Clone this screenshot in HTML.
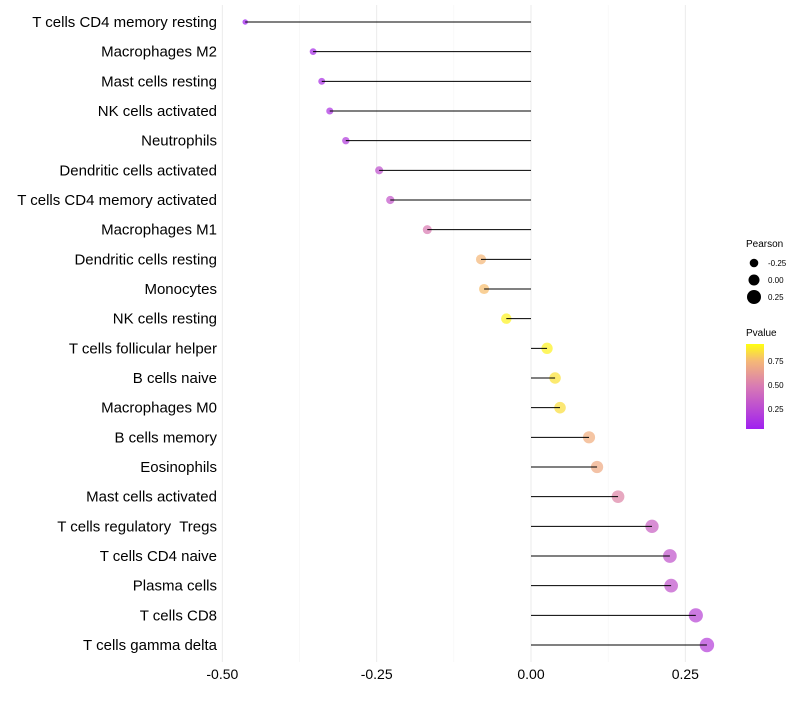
<!DOCTYPE html>
<html><head><meta charset="utf-8"><style>
body{margin:0;background:#fff;font-family:"Liberation Sans",sans-serif}
text{white-space:pre}
</style></head><body>
<svg id="chart" width="800" height="700" xmlns="http://www.w3.org/2000/svg">
<defs><linearGradient id="pg" x1="0" y1="1" x2="0" y2="0">
<stop offset="0" stop-color="#a020f0"/><stop offset="0.5" stop-color="#d87ab4"/><stop offset="0.8" stop-color="#f5b877"/><stop offset="1" stop-color="#ffff10"/></linearGradient></defs>
<g id="grid"></g><g id="marks"></g><g id="labels"></g>
<g font-size="10">
<text x="746" y="247">Pearson</text>
<circle cx="754" cy="263" r="4.3" fill="#000"/><text x="768" y="266" font-size="8">-0.25</text>
<circle cx="754" cy="280" r="5.5" fill="#000"/><text x="768" y="283" font-size="8">0.00</text>
<circle cx="754" cy="297" r="7" fill="#000"/><text x="768" y="300" font-size="8">0.25</text>
<text x="746" y="336">Pvalue</text>
<rect x="746" y="344" width="18" height="85" fill="url(#pg)"/>
<text x="768" y="364" font-size="8">0.75</text>
<text x="768" y="388" font-size="8">0.50</text>
<text x="768" y="412" font-size="8">0.25</text>
</g>
</svg>
<script>
const categories=["T cells CD4 memory resting","Macrophages M2","Mast cells resting","NK cells activated","Neutrophils","Dendritic cells activated","T cells CD4 memory activated","Macrophages M1","Dendritic cells resting","Monocytes","NK cells resting","T cells follicular helper","B cells naive","Macrophages M0","B cells memory","Eosinophils","Mast cells activated","T cells regulatory  Tregs","T cells CD4 naive","Plasma cells","T cells CD8","T cells gamma delta"];
const pearson=[-0.463,-0.353,-0.339,-0.326,-0.300,-0.246,-0.228,-0.168,-0.081,-0.076,-0.040,0.026,0.039,0.047,0.094,0.107,0.141,0.196,0.225,0.227,0.267,0.285];
const pvalue=[0.05,0.12,0.14,0.16,0.2,0.3,0.33,0.5,0.75,0.77,0.9,0.9,0.86,0.85,0.72,0.7,0.55,0.38,0.32,0.32,0.25,0.22];
const xTicks=[-0.5,-0.25,0,0.25];
const xTickLabels=["-0.50","-0.25","0.00","0.25"];
const NS="http://www.w3.org/2000/svg";
const x=v=>531+v*617.3;
const y=i=>22+i*29.667;
const r=v=>5.5+v*6;
function col(p){const s=[[0,[160,32,240]],[0.5,[216,122,180]],[0.8,[245,184,119]],[1,[255,255,16]]];
const t=Math.max(0,Math.min(1,(p-0.06)/0.87));for(let k=1;k<s.length;k++){if(t<=s[k][0]){const a=s[k-1],b=s[k],f=(t-a[0])/(b[0]-a[0]);return 'rgb('+a[1].map((c,j)=>Math.round(c+(b[1][j]-c)*f)).join(',')+')';}}return 'rgb(255,255,16)';}
function mk(tag,attrs,parent){const e=document.createElementNS(NS,tag);for(const k in attrs)e.setAttribute(k,attrs[k]);document.getElementById(parent).appendChild(e);return e;}
[-0.375,-0.125,0.125].forEach(v=>{const g=mk('line',{x1:x(v),x2:x(v),y1:5,y2:662,stroke:'#f4f4f4','stroke-width':0.6},'grid');

});
xTicks.forEach((v,i)=>{const g=mk('line',{x1:x(v),x2:x(v),y1:5,y2:662,stroke:'#ebebeb','stroke-width':1},'grid');


const t=mk('text',{x:x(v),y:679,'text-anchor':'middle','font-size':14,fill:'#000'},'labels');t.textContent=xTickLabels[i];

});
categories.forEach((c,i)=>{
const p=mk('circle',{cx:x(pearson[i]),cy:y(i),r:Math.max(1.5,r(pearson[i])),fill:col(pvalue[i]),'fill-opacity':0.72},'marks');


const l=mk('line',{x1:x(0),x2:x(pearson[i]),y1:y(i),y2:y(i),stroke:'#000','stroke-width':1},'marks');


const t=mk('text',{x:217,y:y(i)+5,'text-anchor':'end','font-size':15,fill:'#000'},'labels');t.textContent=c;

});
</script>
</body></html>
